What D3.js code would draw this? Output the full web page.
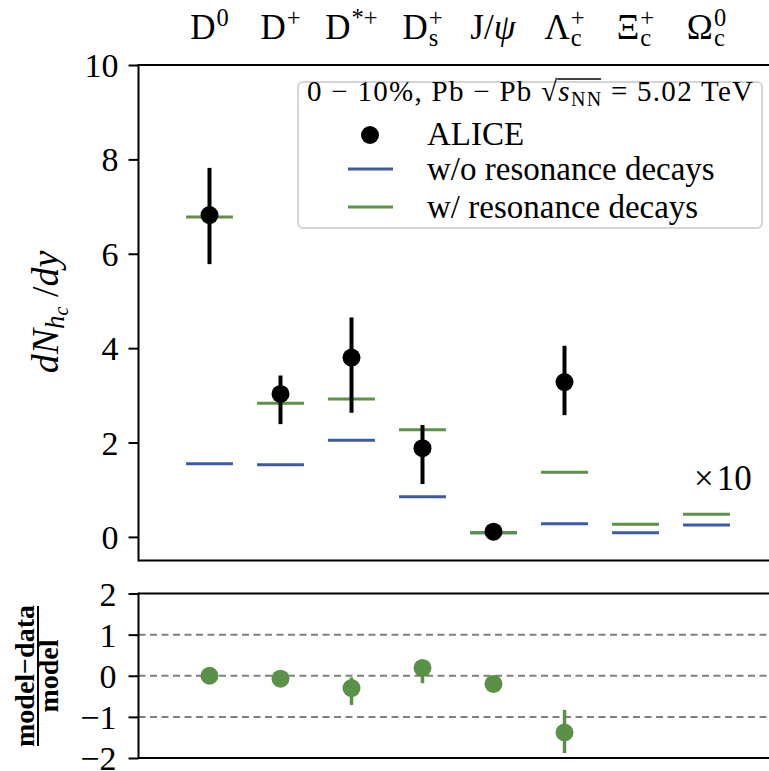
<!DOCTYPE html>
<html>
<head>
<meta charset="utf-8">
<script src="https://cdn.jsdelivr.net/npm/d3@7"></script>
<style>
  body { margin: 0; background: #fff; }
  svg text { font-family: 'Liberation Serif', 'DejaVu Serif', serif; fill: #000; }
</style>
</head>
<body>
<svg id="chart" width="769" height="771"></svg>
<script>
// charm hadron species, in plot order
const species = ['D0', 'D+', 'D*+', 'Ds+', 'J/psi', 'Lc+', 'Xic+', 'Omc0']
const labelBase = ['D', 'D', 'D', 'D', 'J/', 'Λ', 'Ξ', 'Ω']
const labelItalic = ['', '', '', '', 'ψ', '', '', '']
const labelSup = ['0', '+', '*+', '+', '', '+', '+', '0']
const labelSub = ['', '', '', 's', '', 'c', 'c', 'c']

// ALICE data (first six species)
const aliceVal = [6.82, 3.03, 3.80, 1.88, 0.11, 3.28]
const aliceLo = [5.78, 2.39, 2.63, 1.12, 0.08, 2.58]
const aliceHi = [7.82, 3.42, 4.65, 2.37, 0.14, 4.05]

// model yields
const noResonance = [1.55, 1.53, 2.05, 0.85, 0.09, 0.28, 0.09, 0.25]
const withResonance = [6.78, 2.83, 2.92, 2.27, 0.09, 1.37, 0.27, 0.48]

// (model - data) / model
const ratioVal = [0.00, -0.07, -0.30, 0.19, -0.20, -1.38]
const ratioLo = [-0.15, -0.22, -0.71, -0.18, -0.30, -1.88]
const ratioHi = [0.15, 0.08, -0.04, 0.35, -0.10, -0.83]

const topTicks = [0, 2, 4, 6, 8, 10]
const ratioTicks = [-2, -1, 0, 1, 2]
const ratioGrid = [-1, 0, 1]

const BLUE = '#3b5aa6'
const GREEN = '#5a9147'
const HALF = 0.33

const svg = d3.select('#chart')
const left = 138.5
const right = 777.5

const x = d3.scaleLinear().domain([-1, 8]).range([left, right])
const y = d3.scaleLinear().domain([-0.5, 10]).range([560.5, 65])
const yr = d3.scaleLinear().domain([-2, 2]).range([758, 593.5])

/** Draw a label with stacked super/subscript, centred at cx */
function hadronLabel (i, cx, baseY, size) {
  const g = svg.append('g')
  const t = g.append('text').attr('font-size', size)
  t.append('tspan').text(labelBase[i])
  if (labelItalic[i]) t.append('tspan').attr('font-style', 'italic').text(labelItalic[i])
  const w = t.node().getComputedTextLength()
  if (labelSup[i]) {
    g.append('text').attr('x', w + 1).attr('y', -size * 0.36)
      .attr('font-size', size * 0.7).text(labelSup[i])
  }
  if (labelSub[i]) {
    g.append('text').attr('x', w + 1).attr('y', size * 0.2)
      .attr('font-size', size * 0.7).text(labelSub[i])
  }
  const bb = g.node().getBBox()
  g.attr('transform', `translate(${cx - bb.width / 2},${baseY})`)
}

species.forEach((s, i) => hadronLabel(i, x(i), 39, 35))

// ---------- top panel ----------
const upper = svg.append('g')

upper.append('g')
  .attr('transform', `translate(${left},0)`)
  .call(d3.axisLeft(y).tickValues(topTicks).tickSize(10).tickPadding(10).tickFormat(d3.format('d')))
  .call(g => g.select('.domain').remove())
  .call(g => g.selectAll('line').attr('stroke', '#000').attr('stroke-width', 2))
  .call(g => g.selectAll('text').attr('font-size', 34).attr('font-family', "'Liberation Serif', serif").attr('dy', '0.34em'))

upper.append('line').attr('x1', left).attr('x2', right).attr('y1', y(10)).attr('y2', y(10))
  .attr('stroke', '#000').attr('stroke-width', 2)
upper.append('line').attr('x1', left).attr('x2', right).attr('y1', y(-0.5)).attr('y2', y(-0.5))
  .attr('stroke', '#000').attr('stroke-width', 2)
upper.append('line').attr('x1', left).attr('x2', left).attr('y1', y(10) - 1).attr('y2', y(-0.5) + 1)
  .attr('stroke', '#000').attr('stroke-width', 2)

upper.selectAll('line.noRes')
  .data(noResonance).enter().append('line').attr('class', 'noRes')
  .attr('x1', (d, i) => x(i - HALF)).attr('x2', (d, i) => x(i + HALF))
  .attr('y1', d => y(d)).attr('y2', d => y(d))
  .attr('stroke', BLUE).attr('stroke-width', 3)

upper.selectAll('line.withRes')
  .data(withResonance).enter().append('line').attr('class', 'withRes')
  .attr('x1', (d, i) => x(i - HALF)).attr('x2', (d, i) => x(i + HALF))
  .attr('y1', d => y(d)).attr('y2', d => y(d))
  .attr('stroke', GREEN).attr('stroke-width', 3)

upper.selectAll('line.aliceErr')
  .data(aliceVal).enter().append('line').attr('class', 'aliceErr')
  .attr('x1', (d, i) => x(i)).attr('x2', (d, i) => x(i))
  .attr('y1', (d, i) => y(aliceLo[i])).attr('y2', (d, i) => y(aliceHi[i]))
  .attr('stroke', '#000').attr('stroke-width', 4)

upper.selectAll('circle.alice')
  .data(aliceVal).enter().append('circle').attr('class', 'alice')
  .attr('cx', (d, i) => x(i)).attr('cy', d => y(d)).attr('r', 9)
  .attr('fill', '#000')

const times10 = upper.append('text').attr('x', 694).attr('y', 490).attr('font-size', 35)
times10.append('tspan').text('×')
times10.append('tspan').attr('dx', 3).text('10')

// y label: dN_{h_c}/dy
const yl = upper.append('text')
  .attr('transform', 'translate(58,312) rotate(-90)')
  .attr('text-anchor', 'middle').attr('font-size', 38).attr('font-style', 'italic')
yl.append('tspan').text('dN')
yl.append('tspan').attr('font-size', 27).attr('dy', 6).text('h')
yl.append('tspan').attr('font-size', 20).attr('dy', 4).text('c')
yl.append('tspan').attr('dy', -10).attr('font-style', 'normal').text(' /')
yl.append('tspan').text('dy')

// legend
const lg = upper.append('g')
lg.append('rect').attr('x', 298).attr('y', 82).attr('width', 464).attr('height', 146)
  .attr('rx', 5).attr('fill', '#fff').attr('fill-opacity', 0.8)
  .attr('stroke', '#d4d4d4').attr('stroke-width', 2)

const title = lg.append('text').attr('x', 530).attr('y', 101)
  .attr('text-anchor', 'middle').attr('font-size', 29)
  .attr('textLength', 446).attr('lengthAdjust', 'spacing')
title.append('tspan').text('0 − 10%, Pb − Pb ')
title.append('tspan').text('√')
title.append('tspan').attr('font-style', 'italic').text('s')
title.append('tspan').attr('font-size', 20).attr('dy', 5).text('NN')
title.append('tspan').attr('dy', -5).text(' = 5.02 TeV')
{
  const node = title.node()
  const full = node.textContent
  const sIdx = full.indexOf('s')
  const nEnd = full.indexOf('NN') + 1
  const a = node.getExtentOfChar(sIdx)
  const b = node.getExtentOfChar(nEnd)
  const oy = 101 - 22
  lg.append('line').attr('x1', a.x - 1).attr('x2', b.x + b.width).attr('y1', oy).attr('y2', oy)
    .attr('stroke', '#000').attr('stroke-width', 1.3)
}

lg.append('circle').attr('cx', 370).attr('cy', 135).attr('r', 9).attr('fill', '#000')
lg.append('text').attr('x', 427).attr('y', 145).attr('font-size', 33).text('ALICE')
lg.append('line').attr('x1', 348).attr('x2', 393).attr('y1', 169).attr('y2', 169)
  .attr('stroke', BLUE).attr('stroke-width', 3)
lg.append('text').attr('x', 427).attr('y', 180).attr('font-size', 33).text('w/o resonance decays')
lg.append('line').attr('x1', 348).attr('x2', 393).attr('y1', 207).attr('y2', 207)
  .attr('stroke', GREEN).attr('stroke-width', 3)
lg.append('text').attr('x', 427).attr('y', 218).attr('font-size', 33).text('w/ resonance decays')

// ---------- ratio panel ----------
const lower = svg.append('g')

lower.selectAll('line.grid')
  .data(ratioGrid).enter().append('line').attr('class', 'grid')
  .attr('x1', left).attr('x2', right).attr('y1', d => yr(d)).attr('y2', d => yr(d))
  .attr('stroke', '#7f7f7f').attr('stroke-width', 2).attr('stroke-dasharray', '7,4.5')

lower.append('g')
  .attr('transform', `translate(${left},0)`)
  .call(d3.axisLeft(yr).tickValues(ratioTicks).tickSize(10).tickPadding(12).tickFormat(d3.format('d')))
  .call(g => g.select('.domain').remove())
  .call(g => g.selectAll('line').attr('stroke', '#000').attr('stroke-width', 2))
  .call(g => g.selectAll('text').attr('font-size', 34).attr('font-family', "'Liberation Serif', serif").attr('dy', '0.34em'))

lower.append('line').attr('x1', left).attr('x2', right).attr('y1', yr(2)).attr('y2', yr(2))
  .attr('stroke', '#000').attr('stroke-width', 2)
lower.append('line').attr('x1', left).attr('x2', right).attr('y1', yr(-2)).attr('y2', yr(-2))
  .attr('stroke', '#000').attr('stroke-width', 2)
lower.append('line').attr('x1', left).attr('x2', left).attr('y1', yr(2) - 1).attr('y2', yr(-2) + 1)
  .attr('stroke', '#000').attr('stroke-width', 2)

lower.selectAll('line.ratioErr')
  .data(ratioVal).enter().append('line').attr('class', 'ratioErr')
  .attr('x1', (d, i) => x(i)).attr('x2', (d, i) => x(i))
  .attr('y1', (d, i) => yr(ratioLo[i])).attr('y2', (d, i) => yr(ratioHi[i]))
  .attr('stroke', GREEN).attr('stroke-width', 3.5)

lower.selectAll('circle.ratio')
  .data(ratioVal).enter().append('circle').attr('class', 'ratio')
  .attr('cx', (d, i) => x(i)).attr('cy', d => yr(d)).attr('r', 9)
  .attr('fill', GREEN)

// y label: (model - data) / model
const fr = lower.append('g').attr('transform', 'translate(0,676) rotate(-90)')
fr.append('text').attr('x', 0).attr('y', 34).attr('text-anchor', 'middle')
  .attr('font-size', 28).attr('font-weight', 'bold').text('model−data')
fr.append('line').attr('x1', -70).attr('x2', 70).attr('y1', 38).attr('y2', 38)
  .attr('stroke', '#000').attr('stroke-width', 2)
fr.append('text').attr('x', 0).attr('y', 58).attr('text-anchor', 'middle')
  .attr('font-size', 28).attr('font-weight', 'bold').text('model')
</script>
</body>
</html>
